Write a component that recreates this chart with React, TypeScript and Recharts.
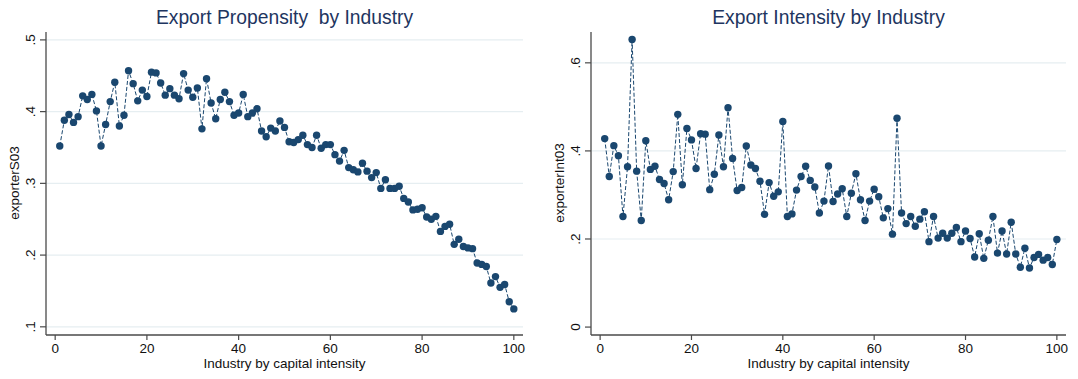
import React from 'react';
import { LineChart, Line, XAxis, YAxis, CartesianGrid } from 'recharts';

// industry rank 1..100 (by capital intensity)
const industries = Array.from({ length: 100 }, (_, i) => i + 1);

const exporterS03 = [
  0.352, 0.388, 0.396, 0.385, 0.393, 0.422, 0.417, 0.424, 0.401, 0.352,
  0.382, 0.414, 0.441, 0.380, 0.395, 0.457, 0.439, 0.415, 0.430, 0.421,
  0.455, 0.454, 0.440, 0.423, 0.432, 0.423, 0.418, 0.453, 0.430, 0.420,
  0.433, 0.376, 0.446, 0.412, 0.390, 0.417, 0.427, 0.414, 0.395, 0.398,
  0.424, 0.393, 0.398, 0.404, 0.373, 0.365, 0.377, 0.373, 0.387, 0.378,
  0.358, 0.357, 0.361, 0.367, 0.354, 0.350, 0.367, 0.349, 0.354, 0.354,
  0.340, 0.331, 0.346, 0.322, 0.319, 0.316, 0.328, 0.317, 0.308, 0.315,
  0.293, 0.305, 0.293, 0.293, 0.296, 0.279, 0.274, 0.263, 0.264, 0.266,
  0.253, 0.250, 0.254, 0.233, 0.240, 0.243, 0.215, 0.222, 0.212, 0.210,
  0.209, 0.189, 0.187, 0.184, 0.161, 0.170, 0.155, 0.159, 0.135, 0.125,
];

const exporterInt03 = [
  0.428, 0.342, 0.412, 0.389, 0.251, 0.364, 0.653, 0.354, 0.242, 0.423,
  0.358, 0.365, 0.335, 0.326, 0.289, 0.353, 0.483, 0.323, 0.451, 0.425,
  0.360, 0.439, 0.438, 0.312, 0.347, 0.436, 0.364, 0.498, 0.383, 0.310,
  0.317, 0.411, 0.368, 0.360, 0.331, 0.256, 0.328, 0.297, 0.307, 0.467,
  0.251, 0.257, 0.311, 0.342, 0.365, 0.333, 0.318, 0.259, 0.286, 0.366,
  0.285, 0.302, 0.314, 0.251, 0.304, 0.348, 0.289, 0.242, 0.286, 0.313,
  0.296, 0.248, 0.269, 0.211, 0.474, 0.259, 0.235, 0.251, 0.229, 0.245,
  0.262, 0.194, 0.251, 0.202, 0.213, 0.202, 0.213, 0.226, 0.194, 0.218,
  0.201, 0.159, 0.212, 0.156, 0.197, 0.251, 0.168, 0.218, 0.166, 0.238,
  0.166, 0.136, 0.179, 0.134, 0.158, 0.165, 0.152, 0.158, 0.142, 0.199,
];

const xTicks = [0, 20, 40, 60, 80, 100];
const leftYTicks = [0.1, 0.2, 0.3, 0.4, 0.5];
const rightYTicks = [0, 0.2, 0.4, 0.6];

const NAVY = '#1A476F';
const TITLE = '#1E3560';
const AXIS = '#4a4a4a';
const GRID = '#E6EEF1';
const FONT = '"Liberation Sans", Arial, sans-serif';

const fmt = (v: number) => (v === 0 ? '0' : v.toFixed(1).replace(/^0/, ''));

const YTick = (props: any) => {
  const { x, y, payload } = props;
  return (
    <text
      x={x}
      y={y}
      transform={`rotate(-90 ${x} ${y})`}
      textAnchor="middle"
      fontSize={13.5}
      fill="#111"
      fontFamily={FONT}
    >
      {fmt(payload.value)}
    </text>
  );
};

type PanelProps = {
  title: string;
  yTitle: string;
  values: number[];
  yDomain: [number, number];
  yTicks: number[];
  gridTicks: number[];
  left: number;
  width: number;
  axisLeft: number;
  marginRight: number;
};

const Panel = ({ title, yTitle, values, yDomain, yTicks, gridTicks, left, width, axisLeft, marginRight }: PanelProps) => {
  const data = industries.map((x, i) => ({ x, y: values[i] }));
  const plotCenter = axisLeft + (width - marginRight - axisLeft) / 2;
  return (
    <div style={{ position: 'absolute', left, top: 0, width, height: 379 }}>
      <LineChart
        width={width}
        height={379}
        data={data}
        margin={{ top: 32, right: marginRight, bottom: 0, left: 0 }}
      >
        <CartesianGrid vertical={false} horizontalValues={gridTicks} stroke={GRID} strokeWidth={1.2} />
        <XAxis
          dataKey="x"
          type="number"
          domain={[-2, 102]}
          ticks={xTicks}
          allowDataOverflow
          height={44}
          tickSize={5}
          tickMargin={3}
          axisLine={{ stroke: AXIS, strokeWidth: 1.3 }}
          tickLine={{ stroke: AXIS, strokeWidth: 1.2 }}
          tick={{ fontSize: 13.5, fill: '#111', fontFamily: FONT }}
        />
        <YAxis
          type="number"
          domain={yDomain}
          ticks={yTicks}
          allowDataOverflow
          width={axisLeft}
          tickSize={6}
          tickMargin={5}
          axisLine={{ stroke: AXIS, strokeWidth: 1.3 }}
          tickLine={{ stroke: AXIS, strokeWidth: 1.2 }}
          tick={<YTick />}
        />
        <Line
          type="linear"
          dataKey="y"
          stroke={NAVY}
          strokeWidth={1}
          strokeDasharray="4 2"
          dot={{ r: 3.7, fill: NAVY, stroke: 'none', strokeDasharray: '' }}
          isAnimationActive={false}
        />
      </LineChart>
      <div
        style={{
          position: 'absolute',
          left: plotCenter,
          top: 18,
          transform: 'translate(-50%, -50%)',
          whiteSpace: 'pre',
          fontSize: 19.3,
          color: TITLE,
          fontFamily: FONT,
          lineHeight: 1,
        }}
      >
        {title}
      </div>
      <div
        style={{
          position: 'absolute',
          left: axisLeft - 31,
          top: 183,
          transform: 'translate(-50%, -50%) rotate(-90deg)',
          whiteSpace: 'nowrap',
          fontSize: 13.5,
          color: '#111',
          fontFamily: FONT,
          lineHeight: 1,
        }}
      >
        {yTitle}
      </div>
      <div
        style={{
          position: 'absolute',
          left: plotCenter,
          top: 364,
          transform: 'translate(-50%, -50%)',
          whiteSpace: 'nowrap',
          fontSize: 13.5,
          color: '#111',
          fontFamily: FONT,
          lineHeight: 1,
        }}
      >
        Industry by capital intensity
      </div>
    </div>
  );
};

export default function App() {
  return (
    <div style={{ position: 'absolute', left: 0, top: 0, width: 1078, height: 379, background: '#fff' }}>
      <Panel
        title="Export Propensity  by Industry"
        yTitle="exporterS03"
        values={exporterS03}
        yDomain={[0.0886, 0.511]}
        yTicks={leftYTicks}
        gridTicks={leftYTicks}
        left={0}
        width={538}
        axisLeft={46}
        marginRight={15}
      />
      <Panel
        title="Export Intensity by Industry"
        yTitle="exporterInt03"
        values={exporterInt03}
        yDomain={[-0.018, 0.67]}
        yTicks={rightYTicks}
        gridTicks={[0.2, 0.4, 0.6]}
        left={538}
        width={540}
        axisLeft={53}
        marginRight={12}
      />
    </div>
  );
}
